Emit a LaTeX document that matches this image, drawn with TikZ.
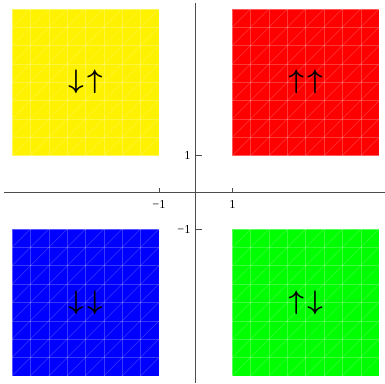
\documentclass[tikz,border=0pt]{standalone}
\usepackage{fontspec}
\setmainfont{Liberation Serif}
\usepackage{tikz}
\usetikzlibrary{positioning}

\begin{document}
\begin{tikzpicture}[
    x=1cm, y=1cm,
    axis/.style={draw=black!70, line width=0.6pt},
    tickmark/.style={draw=black!70, line width=0.6pt},
    ticklabel/.style={font=\fontsize{9.5}{11}\selectfont, inner sep=1pt},
    meshline/.style={draw=white, draw opacity=0.22, line width=0.4pt},
    spinsq/.style={rectangle, minimum size=4cm, inner sep=0pt, draw=white, draw opacity=0.35},
    spinlabel/.style={font=\fontsize{20}{24}\selectfont\boldmath, inner sep=0pt}
]
\useasboundingbox (-5.33,-5.20) rectangle (5.16,5.24);

% Squares
\node [spinsq, fill=yellow] (updown) at (-3,3) {};
\node [spinsq, fill=red] (upup) at (3,3) {};
\node [spinsq, fill=blue] (downdown) at (-3,-3) {};
\node [spinsq, fill={rgb,255:red,0;green,255;blue,0}] (downup) at (3,-3) {};

% Mesh
\foreach \sq in {updown,upup,downdown,downup} {
    \begin{scope}[shift={(\sq.center)}]
    \clip (-2,-2) rectangle (2,2);
    \foreach \k in {-1.5,-1,...,1.5} {
        \draw [meshline] (\k,-2) -- (\k,2);
        \draw [meshline] (-2,\k) -- (2,\k);
    }
    \foreach \c in {-3.5,-3,...,3.5}
        \draw [meshline] (-2,-2+\c) -- (2,2+\c);
    \end{scope}
}

% Spin labels
\node [spinlabel] (lud) at (updown.center) {$\downarrow\mkern2mu\uparrow$};
\node [spinlabel] (luu) at (upup.center) {$\uparrow\mkern2mu\uparrow$};
\node [spinlabel] (ldd) at (downdown.center) {$\downarrow\mkern2mu\downarrow$};
\node [spinlabel] (ldu) at (downup.center) {$\uparrow\mkern2mu\downarrow$};

% Axes
\coordinate (xmin) at (-5.22,0);
\coordinate (xmax) at (5.16,0);
\coordinate (ymin) at (0,-5.20);
\coordinate (ymax) at (0,5.16);
\draw [axis] (xmin) -- (xmax);
\draw [axis] (ymin) -- (ymax);

% Ticks
\foreach \t in {-1,1} {
    \draw [tickmark] (\t,0) -- ++(0,0.12);
    \draw [tickmark] (0,\t) -- ++(0.17,0);
}
\node [ticklabel, anchor=north] (xm) at (-1,-0.17) {−1};
\node [ticklabel, anchor=north] (xp) at (1,-0.17) {1};
\node [ticklabel, anchor=east] (yp) at (-0.1,1) {1};
\node [ticklabel, anchor=east] (ym) at (-0.1,-1) {−1};

\end{tikzpicture}
\end{document}
